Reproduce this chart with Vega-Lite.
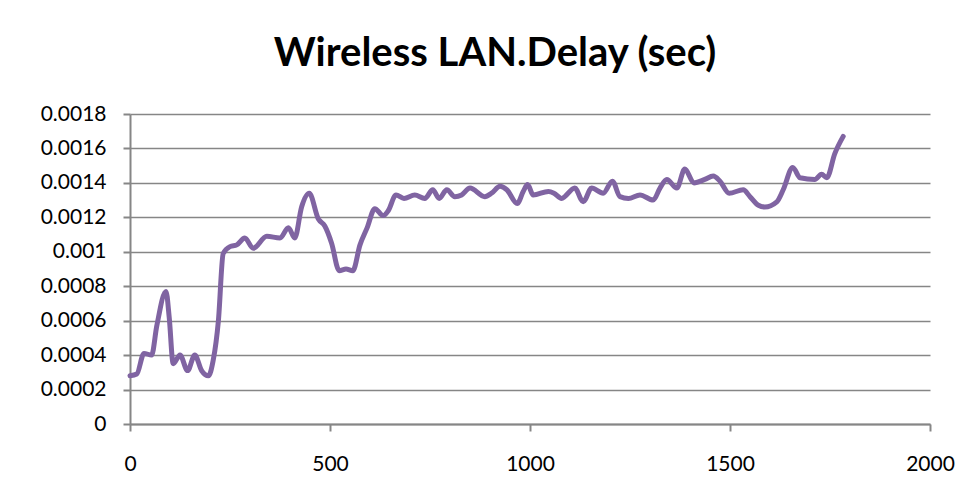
{
  "$schema": "https://vega.github.io/schema/vega-lite/v6.json",
  "width": 800,
  "height": 310,
  "autosize": {"type": "none"},
  "padding": {"left": 130, "top": 114, "right": 41, "bottom": 78},
  "background": "white",
  "title": {
    "text": "Wireless LAN.Delay (sec)",
    "font": "Lato",
    "fontSize": 40,
    "fontWeight": "bold",
    "color": "black",
    "anchor": "middle",
    "frame": "group",
    "baseline": "alphabetic",
    "offset": -3,
    "dx": -35
  },
  "config": {
    "view": {"stroke": null},
    "axis": {
      "domainColor": "#868686",
      "domainWidth": 2,
      "gridColor": "#868686",
      "gridWidth": 1.5,
      "tickColor": "#868686",
      "tickWidth": 2,
      "tickSize": 7,
      "labelFont": "Lato",
      "labelFontSize": 21,
      "labelColor": "black",
      "title": null
    }
  },
  "data": {
    "values": [
      {"t": 0, "delay": 0.00028},
      {"t": 17, "delay": 0.00029},
      {"t": 35, "delay": 0.00041},
      {"t": 54, "delay": 0.00040},
      {"t": 67, "delay": 0.00057},
      {"t": 90, "delay": 0.00077},
      {"t": 98, "delay": 0.00062},
      {"t": 108, "delay": 0.00035},
      {"t": 125, "delay": 0.00040},
      {"t": 144, "delay": 0.00031},
      {"t": 162, "delay": 0.00040},
      {"t": 179, "delay": 0.00031},
      {"t": 196, "delay": 0.00028},
      {"t": 208, "delay": 0.00037},
      {"t": 221, "delay": 0.00060},
      {"t": 233, "delay": 0.00099},
      {"t": 250, "delay": 0.00103},
      {"t": 267, "delay": 0.00104},
      {"t": 287, "delay": 0.00108},
      {"t": 308, "delay": 0.00102},
      {"t": 342, "delay": 0.00109},
      {"t": 375, "delay": 0.00108},
      {"t": 396, "delay": 0.00114},
      {"t": 412, "delay": 0.00108},
      {"t": 429, "delay": 0.00126},
      {"t": 448, "delay": 0.00134},
      {"t": 471, "delay": 0.00119},
      {"t": 487, "delay": 0.00115},
      {"t": 504, "delay": 0.00105},
      {"t": 523, "delay": 0.00089},
      {"t": 540, "delay": 0.00090},
      {"t": 557, "delay": 0.00089},
      {"t": 575, "delay": 0.00104},
      {"t": 593, "delay": 0.00114},
      {"t": 612, "delay": 0.00125},
      {"t": 633, "delay": 0.00121},
      {"t": 646, "delay": 0.00124},
      {"t": 665, "delay": 0.00133},
      {"t": 685, "delay": 0.00131},
      {"t": 712, "delay": 0.00133},
      {"t": 737, "delay": 0.00131},
      {"t": 757, "delay": 0.00136},
      {"t": 773, "delay": 0.00131},
      {"t": 792, "delay": 0.00136},
      {"t": 812, "delay": 0.00132},
      {"t": 829, "delay": 0.00133},
      {"t": 850, "delay": 0.00137},
      {"t": 887, "delay": 0.00132},
      {"t": 904, "delay": 0.00134},
      {"t": 925, "delay": 0.00138},
      {"t": 942, "delay": 0.00136},
      {"t": 968, "delay": 0.00128},
      {"t": 983, "delay": 0.00135},
      {"t": 994, "delay": 0.00139},
      {"t": 1008, "delay": 0.00133},
      {"t": 1046, "delay": 0.00135},
      {"t": 1060, "delay": 0.00134},
      {"t": 1079, "delay": 0.00131},
      {"t": 1112, "delay": 0.00137},
      {"t": 1133, "delay": 0.00129},
      {"t": 1154, "delay": 0.00137},
      {"t": 1183, "delay": 0.00134},
      {"t": 1206, "delay": 0.00141},
      {"t": 1225, "delay": 0.00132},
      {"t": 1246, "delay": 0.00131},
      {"t": 1275, "delay": 0.00133},
      {"t": 1308, "delay": 0.00130},
      {"t": 1325, "delay": 0.00137},
      {"t": 1342, "delay": 0.00142},
      {"t": 1367, "delay": 0.00137},
      {"t": 1387, "delay": 0.00148},
      {"t": 1410, "delay": 0.00140},
      {"t": 1437, "delay": 0.00142},
      {"t": 1458, "delay": 0.00144},
      {"t": 1475, "delay": 0.00141},
      {"t": 1498, "delay": 0.00134},
      {"t": 1533, "delay": 0.00136},
      {"t": 1550, "delay": 0.00132},
      {"t": 1571, "delay": 0.00127},
      {"t": 1587, "delay": 0.00126},
      {"t": 1617, "delay": 0.00129},
      {"t": 1633, "delay": 0.00136},
      {"t": 1657, "delay": 0.00149},
      {"t": 1675, "delay": 0.00143},
      {"t": 1712, "delay": 0.00142},
      {"t": 1729, "delay": 0.00145},
      {"t": 1742, "delay": 0.00143},
      {"t": 1762, "delay": 0.00157},
      {"t": 1783, "delay": 0.00167}
    ]
  },
  "mark": {"type": "line", "color": "#8064A2", "strokeWidth": 5, "interpolate": "monotone", "strokeCap": "round", "strokeJoin": "round"},
  "encoding": {
    "x": {
      "field": "t",
      "type": "quantitative",
      "scale": {"domain": [0, 2000], "nice": false},
      "axis": {"values": [0, 500, 1000, 1500, 2000], "format": "d", "grid": false, "labelPadding": 22, "labelFlush": false}
    },
    "y": {
      "field": "delay",
      "type": "quantitative",
      "scale": {"domain": [0, 0.0018], "nice": false},
      "axis": {
        "values": [0, 0.0002, 0.0004, 0.0006, 0.0008, 0.001, 0.0012, 0.0014, 0.0016, 0.0018],
        "format": ".2~g",
        "labelPadding": 17,
        "grid": true
      }
    }
  }
}
